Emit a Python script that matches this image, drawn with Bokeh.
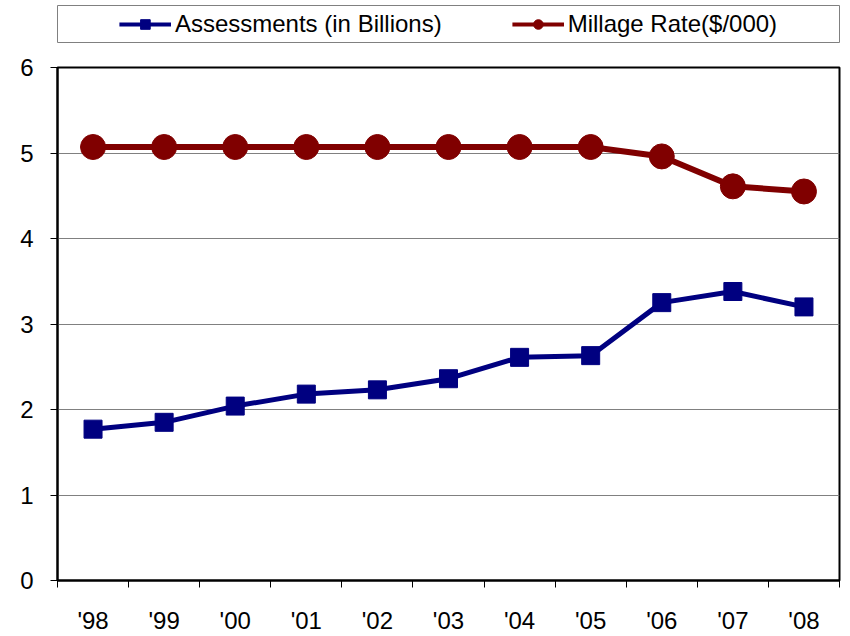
from bokeh.plotting import figure
from bokeh.models import (Range1d, FixedTicker, LinearAxis, Legend, LegendItem, ColumnDataSource, Grid)
from bokeh.layouts import column
from bokeh.embed import file_html
from bokeh.resources import INLINE

years = ["'98", "'99", "'00", "'01", "'02", "'03", "'04", "'05", "'06", "'07", "'08"]
assessments = [1.77, 1.85, 2.04, 2.18, 2.23, 2.36, 2.61, 2.63, 3.25, 3.38, 3.20]
millage = [5.07, 5.07, 5.07, 5.07, 5.07, 5.07, 5.07, 5.07, 4.96, 4.61, 4.55]
y_ticks = [0, 1, 2, 3, 4, 5, 6]

FONT = "Liberation Sans"
NAVY = "#000080"
MAROON = "#800000"

xs = list(range(len(years)))
src = ColumnDataSource(dict(x=xs, a=assessments, m=millage))

# ---------- main chart ----------
p = figure(width=842, height=593, output_backend="svg", toolbar_location=None,
           x_range=Range1d(-0.5, len(years) - 0.5), y_range=Range1d(0, 6),
           x_axis_type=None, y_axis_type=None,
           min_border_left=52, min_border_right=2, min_border_top=24, min_border_bottom=51)
p.outline_line_color = "black"
p.outline_line_width = 2
p.background_fill_color = "white"
p.border_fill_color = "white"

yaxis = LinearAxis(ticker=FixedTicker(ticks=y_ticks))
yaxis.axis_line_color = "black"
yaxis.axis_line_width = 2
yaxis.major_tick_out = 7
yaxis.major_tick_in = 0
yaxis.minor_tick_line_color = None
yaxis.major_tick_line_color = "black"
yaxis.major_label_text_font = FONT
yaxis.major_label_text_font_size = "24px"
yaxis.major_label_text_color = "black"
yaxis.major_label_standoff = 17
p.add_layout(yaxis, "left")

xtick_axis = LinearAxis(ticker=FixedTicker(ticks=[i - 0.5 for i in range(len(years) + 1)]))
xtick_axis.axis_line_color = "black"
xtick_axis.axis_line_width = 2
xtick_axis.major_tick_out = 7
xtick_axis.major_tick_in = 0
xtick_axis.minor_tick_line_color = None
xtick_axis.major_label_overrides = {i - 0.5: "" for i in range(len(years) + 1)}
xtick_axis.major_label_standoff = 0
xtick_axis.major_label_text_font_size = "1px"
p.add_layout(xtick_axis, "below")

xlab_axis = LinearAxis(ticker=FixedTicker(ticks=xs))
xlab_axis.axis_line_color = None
xlab_axis.major_tick_line_color = None
xlab_axis.minor_tick_line_color = None
xlab_axis.major_label_overrides = {i: years[i] for i in xs}
xlab_axis.major_label_text_font = FONT
xlab_axis.major_label_text_font_size = "24px"
xlab_axis.major_label_text_color = "black"
xlab_axis.major_label_standoff = 13
p.add_layout(xlab_axis, "below")

p.add_layout(Grid(dimension=1, ticker=FixedTicker(ticks=[1, 2, 3, 4, 5]),
                  grid_line_color="#808080", grid_line_width=1))

la = p.line("x", "a", source=src, line_color=NAVY, line_width=5)
sa = p.scatter("x", "a", source=src, marker="square", size=18, fill_color=NAVY, line_color=NAVY)
lm = p.line("x", "m", source=src, line_color=MAROON, line_width=6)
sm = p.scatter("x", "m", source=src, marker="circle", size=25, fill_color=MAROON, line_color=MAROON)

# ---------- legend box ----------
lg = figure(width=842, height=43, output_backend="svg", toolbar_location=None,
            x_range=Range1d(100, 101), y_range=Range1d(100, 101),
            x_axis_type=None, y_axis_type=None,
            min_border_left=57, min_border_right=3, min_border_top=5, min_border_bottom=1)
lg.outline_line_color = "#808080"
lg.outline_line_width = 1
lg.xgrid.visible = False
lg.ygrid.visible = False
l1 = lg.line("x", "a", source=src, line_color=NAVY, line_width=4)
s1 = lg.scatter("x", "a", source=src, marker="square", size=10, fill_color=NAVY, line_color=NAVY)
l2 = lg.line("x", "m", source=src, line_color=MAROON, line_width=4)
s2 = lg.scatter("x", "m", source=src, marker="circle", size=12, fill_color=MAROON, line_color=MAROON)
legend = Legend(items=[LegendItem(label="Assessments (in Billions)", renderers=[l1, s1]),
                       LegendItem(label="Millage Rate($/000)", renderers=[l2, s2])],
                location="center", orientation="horizontal")
legend.border_line_color = None
legend.background_fill_alpha = 0
legend.padding = 0
legend.margin = 0
legend.spacing = 70
legend.glyph_width = 52
legend.glyph_height = 24
legend.label_standoff = 4
legend.label_text_font = FONT
legend.label_text_font_size = "24px"
legend.label_text_color = "black"
lg.add_layout(legend, "center")

layout = column(lg, p, spacing=0)
open("out.html", "w").write(file_html(layout, INLINE))
